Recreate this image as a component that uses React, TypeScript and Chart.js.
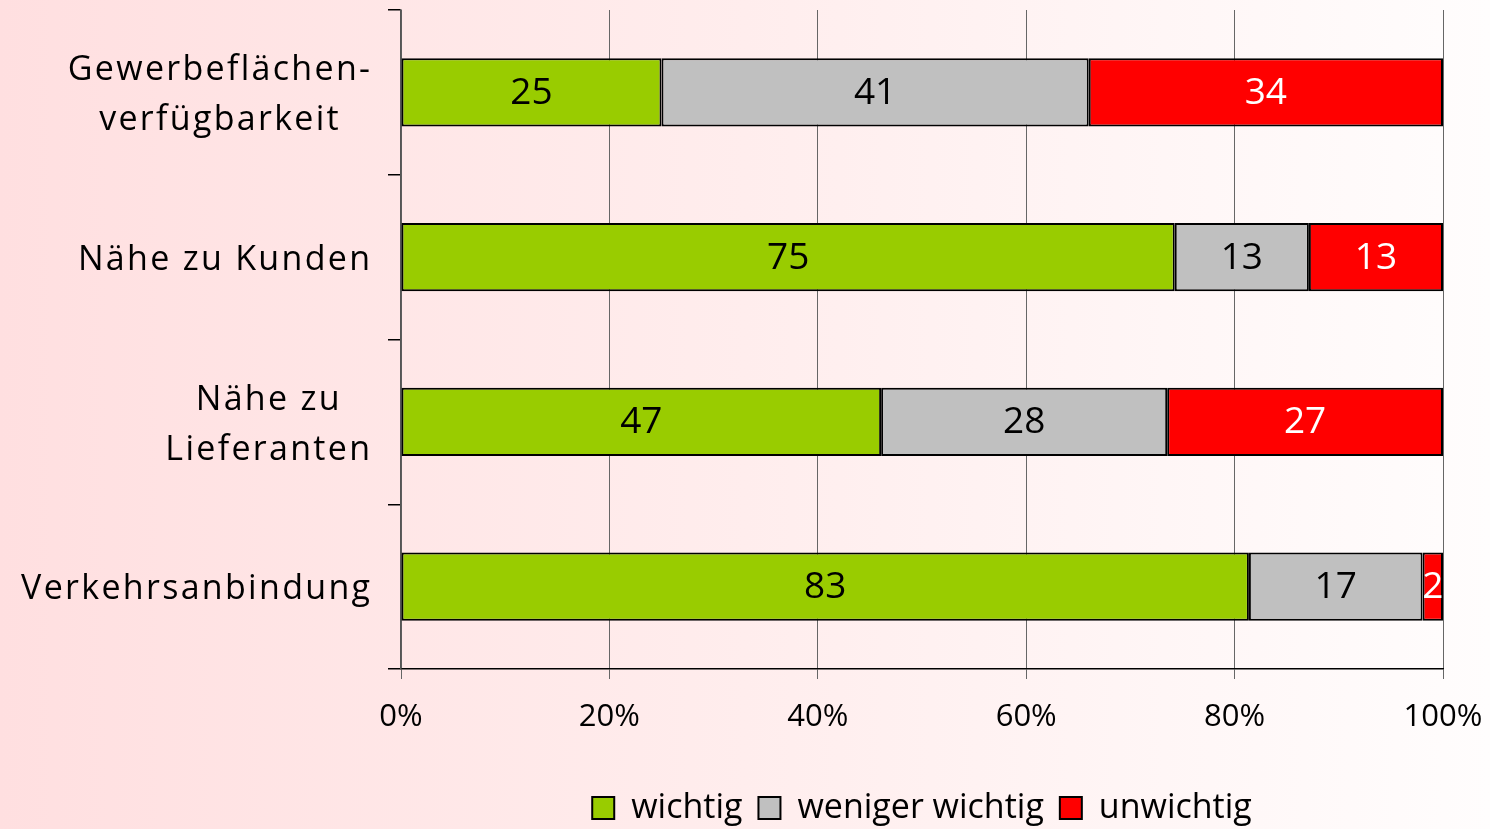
import React, { useEffect, useRef } from "react";
import { Chart, registerables } from "chart.js";

Chart.register(...registerables);

const categories: string[][] = [
  ["Gewerbeflächen-", "verfügbarkeit"],
  ["Nähe zu Kunden"],
  ["Nähe zu", "Lieferanten"],
  ["Verkehrsanbindung"],
];
const seriesNames = ["wichtig", "weniger wichtig", "unwichtig"];
const wichtig = [25, 75, 47, 83];
const wenigerWichtig = [41, 13, 28, 17];
const unwichtig = [34, 13, 27, 2];
const seriesColors = ["#99CC00", "#C0C0C0", "#FF0000"];
const labelColors = ["#000000", "#000000", "#FFFFFF"];
const xTicks = [0, 20, 40, 60, 80, 100];

const FONT = "'Open Sans', 'DejaVu Sans', sans-serif";

export default function App() {
  const ref = useRef<HTMLCanvasElement | null>(null);

  useEffect(() => {
    document.body.style.margin = "0";
    const canvas = ref.current;
    if (!canvas) return;
    const raw = [wichtig, wenigerWichtig, unwichtig];
    const totals = wichtig.map((_, i) => raw.reduce((s, arr) => s + arr[i], 0));
    const pct = raw.map((arr) => arr.map((v, i) => (v / totals[i]) * 100));

    const bgPlugin = {
      id: "bg",
      beforeDraw(chart: any) {
        const { ctx, width, height } = chart;
        const g = ctx.createLinearGradient(0, 0, width, 0);
        g.addColorStop(0, "#FFDFE0");
        g.addColorStop(0.5, "#FFEDED");
        g.addColorStop(1, "#FFFDFD");
        ctx.save();
        ctx.fillStyle = g;
        ctx.fillRect(0, 0, width, height);
        ctx.restore();
      },
    };

    const valuePlugin = {
      id: "values",
      afterDatasetsDraw(chart: any) {
        const { ctx } = chart;
        ctx.save();
        ctx.font = `37px ${FONT}`;
        ctx.textAlign = "center";
        ctx.textBaseline = "middle";
        chart.data.datasets.forEach((ds: any, di: number) => {
          const meta = chart.getDatasetMeta(di);
          meta.data.forEach((bar: any, i: number) => {
            const cx = (bar.x + bar.base) / 2;
            ctx.fillStyle = labelColors[di];
            ctx.fillText(String(raw[di][i]), cx, bar.y + 1);
          });
        });
        ctx.restore();
      },
    };

    const catLabelPlugin = {
      id: "catLabels",
      afterDraw(chart: any) {
        const { ctx } = chart;
        const y = chart.scales.y;
        const rightEdge = 370;
        const lineH = 50;
        const spacing = 2.3;
        ctx.save();
        ctx.font = `34px ${FONT}`;
        (ctx as any).letterSpacing = `${spacing}px`;
        ctx.fillStyle = "#000";
        ctx.textBaseline = "middle";
        ctx.textAlign = "center";
        categories.forEach((lines, i) => {
          const cy = y.getPixelForValue(i) + 3;
          const widths = lines.map((l) => ctx.measureText(l).width - spacing);
          const bw = Math.max(...widths);
          const cx = rightEdge - bw / 2;
          const startY = cy - ((lines.length - 1) * lineH) / 2;
          lines.forEach((l, k) => {
            ctx.fillText(l, cx + spacing / 2, startY + k * lineH);
          });
        });
        ctx.restore();
      },
    };

    const chart = new Chart(canvas, {
      type: "bar",
      data: {
        labels: categories.map((c) => c.join(" ")),
        datasets: pct.map((d, i) => ({
          label: seriesNames[i],
          data: d,
          backgroundColor: seriesColors[i],
          borderColor: "#000000",
          borderWidth: 2,
          borderSkipped: false,
          categoryPercentage: 1,
          barPercentage: 0.415,
        })),
      },
      options: {
        indexAxis: "y",
        animation: false,
        responsive: false,
        maintainAspectRatio: false,
        layout: { padding: { top: 10, right: 47, bottom: 0, left: 0 } },
        scales: {
          x: {
            stacked: true,
            min: 0,
            max: 100,
            afterBuildTicks: (scale: any) => {
              scale.ticks = xTicks.map((v) => ({ value: v }));
            },
            ticks: {
              callback: (v: any) => `${v}%`,
              color: "#000",
              font: { family: FONT, size: 31 },
              padding: 20,
              maxRotation: 0,
            },
            grid: {
              color: "#666666",
              lineWidth: 1,
              tickLength: 10,
              drawTicks: true,
            },
            border: { color: "#000", width: 1.5 },
            afterFit: (scale: any) => {
              scale.height = 106;
              scale.paddingLeft = 0;
              scale.paddingRight = 0;
            },
          },
          y: {
            stacked: true,
            offset: true,
            ticks: { display: false },
            grid: {
              offset: true,
              drawOnChartArea: false,
              drawTicks: true,
              tickLength: 13,
              color: "#000",
              lineWidth: 1.5,
            },
            border: { color: "#555", width: 1.5 },
            afterFit: (scale: any) => {
              scale.width = 401;
            },
          },
        },
        plugins: {
          legend: {
            position: "bottom",
            fullSize: false,
            labels: {
              boxWidth: 22,
              boxHeight: 22,
              padding: 16,
              color: "#000",
              font: { family: FONT, size: 34 },
              generateLabels: (c: any) =>
                c.data.datasets.map((ds: any, i: number) => ({
                  text: ds.label,
                  fillStyle: seriesColors[i],
                  strokeStyle: "#000",
                  lineWidth: 2,
                  hidden: false,
                  datasetIndex: i,
                  fontColor: "#000",
                })),
            },
          },
          tooltip: { enabled: false },
        },
      },
      plugins: [bgPlugin, valuePlugin, catLabelPlugin],
    });
    return () => chart.destroy();
  }, []);

  return (
    <div style={{ width: 1490, height: 829, position: "relative", overflow: "hidden" }}>
      <canvas ref={ref} width={1490} height={835} style={{ display: "block" }} />
    </div>
  );
}
